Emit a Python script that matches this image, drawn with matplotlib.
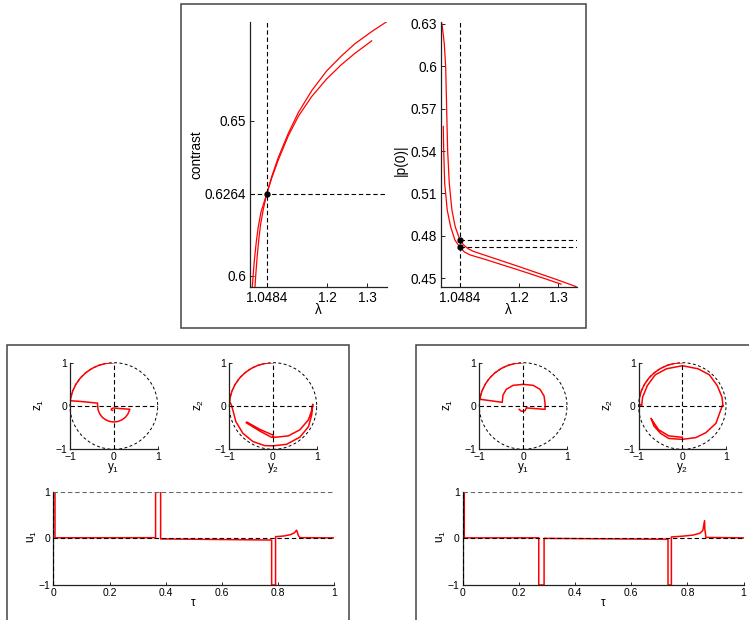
import matplotlib
matplotlib.use('Agg')
import matplotlib.pyplot as plt
from matplotlib.patches import Rectangle, Circle

W, H = 749, 620

plt.rcParams['font.family'] = ['Liberation Sans', 'DejaVu Sans']
plt.rcParams['mathtext.default'] = 'regular'

# ---- top panel: contrast and |p(0)| against lambda ----
lam_star = 1.0484
contrast_star = 0.6264
p0_star = [0.4771, 0.4719]

lam_con_a = [1.0191, 1.0215, 1.0245, 1.0285, 1.033, 1.040, 1.0484, 1.0609, 1.0774, 1.1024,
             1.1274, 1.1609, 1.1984, 1.2359, 1.2692, 1.3109, 1.3484]
con_a = [0.5964, 0.6010, 0.6060, 0.6115, 0.6165, 0.6215, 0.6264, 0.6320, 0.6382, 0.6460,
         0.6527, 0.6598, 0.6662, 0.6711, 0.6750, 0.6789, 0.6821]
lam_con_b = [1.0124, 1.015, 1.018, 1.022, 1.027, 1.034, 1.0484, 1.0609, 1.0774, 1.1024,
             1.1274, 1.1609, 1.1984, 1.2359, 1.2692, 1.3109]
con_b = [0.5964, 0.6010, 0.6055, 0.6105, 0.6155, 0.6205, 0.6264, 0.6315, 0.6374, 0.6452,
         0.6515, 0.6579, 0.6636, 0.6683, 0.6719, 0.6759]

lam_p_a = [1.0026, 1.0085, 1.012, 1.0146, 1.017, 1.0212, 1.028, 1.0364, 1.0484, 1.058,
           1.0695, 1.083, 1.0993, 1.20, 1.2945, 1.3454]
p_a = [0.6300, 0.6159, 0.5994, 0.5688, 0.5406, 0.5171, 0.4982, 0.4864, 0.4771, 0.4735,
       0.4709, 0.4690, 0.4675, 0.4582, 0.4492, 0.4441]
lam_p_b = [1.0059, 1.0069, 1.0095, 1.016, 1.0247, 1.0357, 1.0484, 1.060, 1.0738, 1.09,
           1.1077, 1.20, 1.269, 1.3072]
p_b = [0.5575, 0.5406, 0.5171, 0.4982, 0.4864, 0.4770, 0.4719, 0.4686, 0.4666, 0.4652,
       0.4638, 0.4557, 0.4494, 0.4458]

# ---- bottom panels: phase portraits and control ----
arc_y = [0, -0.174, -0.342, -0.5, -0.643, -0.766, -0.866, -0.94, -0.985]
arc_z = [1, 0.985, 0.94, 0.866, 0.766, 0.643, 0.5, 0.342, 0.174]

L_y1 = arc_y + [-0.993, -0.7, -0.37, -0.37, -0.357, -0.32, -0.262, -0.185, -0.096, 0,
                0.096, 0.185, 0.262, 0.32, 0.357, 0.365, 0.09, 0.0, -0.05, -0.06, -0.03]
L_z1 = arc_z + [0.122, 0.10, 0.065, 0.0, -0.096, -0.185, -0.262, -0.32, -0.357, -0.37,
                -0.357, -0.32, -0.262, -0.185, -0.096, -0.075, -0.055, -0.045, -0.06, -0.09, -0.10]

L_y2 = arc_y + [-0.99, -0.95, -0.92, -0.85, -0.69, -0.46, -0.19, 0.0, 0.31, 0.615, 0.81,
                0.885, 0.91, 0.88, 0.81, 0.615, 0.35, 0.077, -0.04, -0.3, -0.615, -0.60,
                -0.3, -0.03, 0.0, 0.0]
L_z2 = arc_z + [0.10, 0.02, -0.09, -0.36, -0.63, -0.82, -0.915, -0.92, -0.885, -0.72, -0.48,
                -0.21, 0.04, -0.12, -0.32, -0.55, -0.69, -0.72, -0.72, -0.58, -0.385, -0.37,
                -0.54, -0.66, -0.66, -0.70]

R_y1 = arc_y + [-0.988, -0.477, -0.46, -0.385, -0.23, 0.0, 0.23, 0.385, 0.477, 0.5, 0.5,
                0.09, 0.077, 0.046, -0.04, -0.09]
R_z1 = arc_z + [0.156, 0.085, 0.25, 0.385, 0.477, 0.5, 0.477, 0.385, 0.23, 0.06, -0.077,
                -0.046, -0.03, -0.108, -0.123, -0.077]

R_y2 = arc_y + [-0.99, -0.93, -0.91, -0.8, -0.62, -0.36, 0.0, 0.36, 0.62, 0.8, 0.91, 0.93,
                0.92, 0.77, 0.54, 0.31, 0.0, -0.31, -0.5, -0.65, -0.715, -0.67, -0.54,
                -0.31, -0.04, 0.0]
R_z2 = arc_z + [0.06, 0.0, 0.2, 0.47, 0.72, 0.86, 0.93, 0.86, 0.72, 0.47, 0.2, 0.0,
                0.02, -0.4, -0.615, -0.73, -0.77, -0.75, -0.63, -0.46, -0.285, -0.36, -0.55,
                -0.69, -0.72, -0.72]

L_tau = [0, 0.006, 0.006, 0.364, 0.364, 0.382, 0.382, 0.777, 0.777, 0.791, 0.791, 0.82,
         0.845, 0.858, 0.866, 0.872, 0.878, 1.0]
L_u = [1, 1, 0.012, 0.014, 1, 1, -0.012, -0.036, -1, -1, 0.036, 0.05, 0.08, 0.12, 0.175,
       0.06, 0.015, 0.01]

R_tau = [0, 0.006, 0.006, 0.271, 0.271, 0.29, 0.29, 0.731, 0.731, 0.743, 0.743, 0.78, 0.82,
         0.845, 0.855, 0.861, 0.862, 0.866, 1.0]
R_u = [1, 1, 0.01, 0.012, -1, -1, 0.0, -0.02, -1, -1, 0.03, 0.045, 0.07, 0.11, 0.17, 0.38,
       0.2, 0.02, 0.01]


def px_axes(fig, x0, y0, x1, y1):
    return fig.add_axes([x0 / W, 1 - y1 / H, (x1 - x0) / W, (y1 - y0) / H])


def ftext(fig, x, y, s, **kw):
    fig.text(x / W, 1 - y / H, s, ha='center', va='center', **kw)


def matlab_style(ax, fs):
    for s in ['top', 'right']:
        ax.spines[s].set_visible(False)
    for s in ['left', 'bottom']:
        ax.spines[s].set_linewidth(0.9)
        ax.spines[s].set_color('#222222')
    ax.tick_params(direction='in', length=3, width=0.6, labelsize=fs, pad=3)


def box(fig, x0, y0, x1, y1):
    fig.add_artist(Rectangle((x0 / W, 1 - y1 / H), (x1 - x0) / W, (y1 - y0) / H,
                             transform=fig.transFigure, fill=False,
                             ec='#444444', lw=1.1, clip_on=False))


DASH = dict(color='k', ls=(0, (4, 2.5)), lw=0.8)

fig = plt.figure(figsize=(W / 100, H / 100), dpi=100)

# top-left: contrast
ax = px_axes(fig, 250.3, 21.7, 386.7, 286.7)
matlab_style(ax, 9.8)
ax.plot(lam_con_a, con_a, color='r', lw=0.9)
ax.plot(lam_con_b, con_b, color='r', lw=0.9)
ax.axvline(lam_star, **DASH)
ax.axhline(contrast_star, **DASH)
ax.plot([lam_star], [contrast_star], 'ko', ms=3.5)
ax.set_xlim(1.0074, 1.3484)
ax.set_ylim(0.5964, 0.6821)
ax.set_xticks([lam_star, 1.2, 1.3], ['1.0484', '1.2', '1.3'])
ax.set_yticks([0.6, contrast_star, 0.65], ['0.6', '0.6264', '0.65'])
ftext(fig, 196, 155, 'contrast', fontsize=9.8, rotation=90)
ftext(fig, 318, 310, 'λ', fontsize=9.8)

# top-right: |p(0)|
ax = px_axes(fig, 441.3, 22, 576.5, 287)
matlab_style(ax, 9.8)
ax.plot(lam_p_a, p_a, color='r', lw=0.9)
ax.plot(lam_p_b, p_b, color='r', lw=0.9)
ax.axvline(lam_star, **DASH)
ax.set_xlim(1.0008, 1.3466)
ax.set_ylim(0.4438, 0.6314)
ax.hlines(p0_star, lam_star, 1.3466, **DASH)
ax.plot([lam_star] * 2, p0_star, 'ko', ms=3.5)
ax.set_xticks([lam_star, 1.2, 1.3], ['1.0484', '1.2', '1.3'])
ax.set_yticks([0.45, 0.48, 0.51, 0.54, 0.57, 0.6, 0.63],
              ['0.45', '0.48', '0.51', '0.54', '0.57', '0.6', '0.63'])
ftext(fig, 401, 160, '|p(0)|', fontsize=9.8, rotation=90)
ftext(fig, 508, 310, 'λ', fontsize=9.8)

box(fig, 181, 4, 586, 328)


def phase(ax, y, z):
    matlab_style(ax, 7.5)
    ax.plot(y, z, color='r', lw=1.1)
    ax.add_patch(Circle((0, 0), 1, fill=False, ec='k', lw=0.7, ls=(0, (3, 2.5)),
                        clip_on=False))
    ax.plot([-1, 1], [0, 0], **DASH)
    ax.plot([0, 0], [-1, 1], **DASH)
    ax.set_xlim(-1, 1)
    ax.set_ylim(-1, 1)
    ax.set_xticks([-1, 0, 1])
    ax.set_yticks([-1, 0, 1])
    ax.tick_params(length=2.5, pad=2)


def control(ax, tau, u):
    matlab_style(ax, 7.5)
    ax.plot(tau, u, color='r', lw=1.1)
    ax.axhline(1, color='0.4', ls=(0, (4, 2.5)), lw=0.8)
    ax.axhline(0, zorder=3, **DASH)
    ax.axvline(0, zorder=3, **DASH)
    ax.set_xlim(0, 1)
    ax.set_ylim(-1, 1)
    ax.set_xticks([0, 0.2, 0.4, 0.6, 0.8, 1], ['0', '0.2', '0.4', '0.6', '0.8', '1'])
    ax.set_yticks([-1, 0, 1])
    ax.tick_params(length=2.5, pad=2)


panels = [(0.0, L_y1, L_z1, L_y2, L_z2, L_tau, L_u),
          (409.3, R_y1, R_z1, R_y2, R_z2, R_tau, R_u)]
for dx, y1, z1, y2, z2, tau, u in panels:
    phase(px_axes(fig, 70 + dx, 362.7, 157.7 + dx, 449.3), y1, z1)
    phase(px_axes(fig, 229.3 + dx, 362.7, 316.7 + dx, 449.3), y2, z2)
    control(px_axes(fig, 53.3 + dx, 491.7, 334.3 + dx, 585), tau, u)
    ftext(fig, 39 + dx, 405, '$z_1$', fontsize=8.5, rotation=90)
    ftext(fig, 113.5 + dx, 468, '$y_1$', fontsize=8.5)
    ftext(fig, 199 + dx, 405, '$z_2$', fontsize=8.5, rotation=90)
    ftext(fig, 273 + dx, 468, '$y_2$', fontsize=8.5)
    ftext(fig, 32 + dx, 537, '$u_1$', fontsize=8.5, rotation=90)
    ftext(fig, 193.5 + dx, 603, 'τ', fontsize=8.5)
    box(fig, 7 + dx, 345, 349 + dx, 630)

fig.savefig('out.png', dpi=100)
